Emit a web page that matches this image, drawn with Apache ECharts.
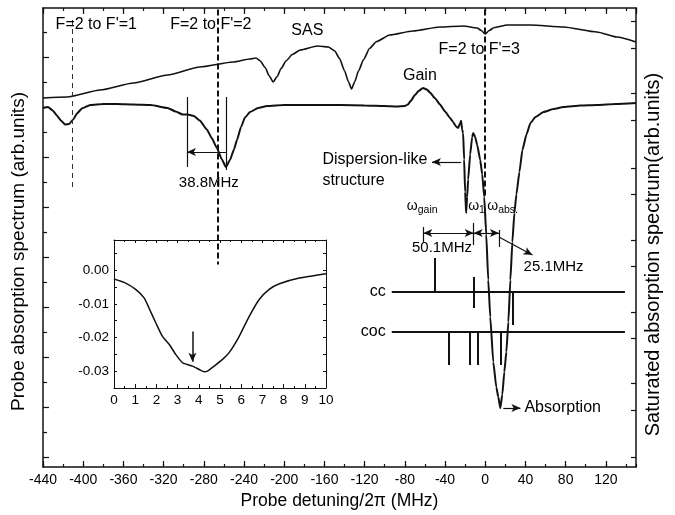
<!DOCTYPE html>
<html>
<head>
<meta charset="utf-8">
<script src="https://cdn.jsdelivr.net/npm/echarts@6/dist/echarts.min.js"></script>
<style>
  html, body { margin: 0; padding: 0; background: #fff; }
  #chart { width: 675px; height: 515px; }
</style>
</head>
<body>
<div id="chart"></div>
<script>
// ---- Saturated absorption (SAS) trace: detuning (MHz) vs signal (arb. units)
const sasDetuning = [-440, -416, -383, -350, -316, -284, -251, -234, -228, -224, -219, -215, -211, -207, -203, -198, -192,
  -184, -167, -156, -150, -145, -140, -136, -133, -130, -126, -121, -115, -108, -95, -72, -45, -22, -8, -4, 0, 4, 9,
  22, 45, 78, 111, 131, 150];
const sasSignal = [14.76, 14.80, 15.08, 15.36, 15.68, 16.00, 16.20, 16.32, 16.36, 16.25, 15.98, 15.65, 15.40, 15.62, 15.95, 16.25, 16.50,
  16.68, 16.84, 16.80, 16.65, 16.35, 15.85, 15.40, 15.12, 15.40, 15.85, 16.30, 16.75, 17.02, 17.28, 17.44, 17.60, 17.64, 17.56, 17.46, 17.32, 17.46, 17.58,
  17.68, 17.68, 17.60, 17.40, 17.20, 17.00];

// ---- Probe absorption trace
const probeDetuning = [-440, -435, -430, -426, -422, -418, -414, -410, -406, -401, -393, -380, -366, -350, -333, -316, -308, -301, -296,
  -290, -284, -277, -272, -267, -262, -258, -254, -250, -247, -243, -239, -234, -226, -217, -200, -184, -160, -144, -120, -100,
  -88, -80, -77, -74, -70, -66, -62, -58, -55, -50, -45, -40, -35, -32, -29, -27, -25, -24, -23, -22, -21, -20, -19, -18, -17,
  -15, -13, -12, -10, -8, -5, -3, -1, 1, 3, 5, 8, 11, 13, 15, 17, 19, 21, 23, 25, 27, 29, 31, 34, 37, 41, 45, 50, 58, 68, 78,
  95, 111, 130, 150];
const probeSignal = [14.36, 14.40, 14.25, 14.05, 13.85, 13.70, 13.72, 13.90, 14.15, 14.35, 14.48, 14.52, 14.52, 14.50, 14.48, 14.36, 14.22, 14.10, 14.10,
  14.04, 13.86, 13.50, 13.15, 12.76, 12.30, 12.00, 12.28, 12.70, 13.08, 13.60, 13.98, 14.20, 14.36, 14.44, 14.48, 14.48, 14.48, 14.48, 14.46, 14.44,
  14.42, 14.44, 14.50, 14.65, 14.88, 15.05, 15.16, 15.10, 14.98, 14.75, 14.50, 14.22, 13.96, 13.80, 13.62, 13.56, 13.75, 13.85, 13.50, 13.36, 12.30, 11.00, 10.16, 10.80, 11.50,
  12.50, 13.20, 13.36, 13.20, 12.88, 12.28, 11.70, 10.80, 9.30, 7.48, 6.00, 4.20, 3.20, 2.80, 2.36, 2.90, 3.80, 4.60, 5.80, 7.48, 9.00, 10.16, 10.90, 11.80, 12.68, 13.30, 13.76, 14.00, 14.20, 14.32, 14.40,
  14.46, 14.48, 14.52, 14.56];

// ---- Inset: close-up of the gain/absorption overlap
const insetX = [0, 0.55, 1.02, 1.42, 1.65, 1.97, 2.28, 2.6, 2.91, 3.23, 3.46, 3.7, 4.02, 4.25, 4.41, 4.72, 5.12, 5.43, 5.9, 6.38, 6.85, 7.32, 7.8, 8.74, 10];
const insetY = [-0.0026, -0.0038, -0.0057, -0.0082, -0.0112, -0.0156, -0.0196, -0.022, -0.025, -0.0275, -0.028, -0.0285, -0.0295, -0.0302, -0.030, -0.0285, -0.0265, -0.0245, -0.0197, -0.0137, -0.0087, -0.0057, -0.004, -0.0023, -0.001];
const insetArrowAt = 3.7;
const insetArrowSpan = [-0.0182, -0.0272];
const insetYLabels = [-0.03, -0.02, -0.01, 0];
const insetYTicks = [-0.03, -0.025, -0.02, -0.015, -0.01, -0.005, 0, 0.005];

// ---- Axis tick positions (arb. units)
const leftMajorTicks = [0.4, 2.4, 4.4, 6.4, 8.4, 10.4, 12.4, 14.4, 16.4];
const leftMinorTicks = [1.4, 3.4, 5.4, 7.4, 9.4, 11.4, 13.4, 15.4, 17.4];
const rightTicks = [0.41, 2.28, 3.35, 5.15, 6.21, 8.04, 9.07, 10.91, 11.97, 13.88, 14.94, 16.77, 17.83];

// ---- Transition markers (MHz)
const lineF1 = -411, lineF2 = -266, lineF3 = 0;
const dipF2 = -258, splitting = 38.8;
const omegaGain = -61.6, gainToOne = 50.1, oneToAbs = 25.1;
const omegaOne = omegaGain + gainToOne;
const omegaAbs = omegaOne + oneToAbs;
const ccLevel = 7.0, cocLevel = 5.4;
const ccLines = [-50, -11, 27];
const ccSpans = [[0, 1.36], [-0.64, 0.6], [-1.32, 0]];
const cocLines = [-36, -15, -7, 15];
const cocSpans = [[-1.32, 0], [-1.32, 0], [-1.32, 0], [-1.32, 0]];
const levelRange = [-93, 139];

const FONT = '"Liberation Sans", Arial, Helvetica, sans-serif';
const INK = '#111';
const TEXT = '#000';

const chart = echarts.init(document.getElementById('chart'), null, { renderer: 'canvas' });

function seg(x1, y1, x2, y2, style, s1, s2) {
  return [
    { coord: [x1, y1], symbol: s1 || 'none', lineStyle: style },
    { coord: [x2, y2], symbol: s2 || 'none' }
  ];
}
const solid = { color: INK, width: 1.2, type: 'solid' };
const thick = { color: INK, width: 2, type: 'solid' };
const dashThin = { color: '#333', width: 1, type: [5, 4] };
const dashBold = { color: INK, width: 2, type: [6, 3] };

const mainLines = [
  seg(lineF1, 17.88, lineF1, 11.2, dashThin),
  seg(lineF2, 18.3, lineF2, 8.1, dashBold),
  seg(lineF3, 18.3, lineF3, 10.8, dashBold),
  // 38.8 MHz splitting
  seg(dipF2 - splitting, 14.8, dipF2 - splitting, 12.0, solid),
  seg(dipF2, 14.8, dipF2, 11.88, solid),
  seg(dipF2, 12.6, dipF2 - splitting, 12.6, solid, 'none', 'arrow'),
  // dispersion pointer
  seg(-24, 12.2, -53, 12.2, solid, 'none', 'arrow'),
  // omega markers
  seg(omegaGain, 9.6, omegaGain, 9.0, solid),
  seg(omegaOne, 9.76, omegaOne, 8.88, solid),
  seg(omegaAbs, 9.48, omegaAbs, 8.8, solid),
  seg(omegaGain, 9.36, omegaOne, 9.36, solid, 'arrow', 'arrow'),
  seg(omegaOne, 9.36, omegaAbs, 9.36, solid, 'arrow', 'arrow'),
  seg(omegaAbs, 9.2, 47, 8.48, solid, 'none', 'arrow'),
  // absorption pointer
  seg(18, 2.36, 35, 2.36, solid, 'none', 'arrow'),
  // cc / coc level diagrams
  seg(levelRange[0], ccLevel, levelRange[1], ccLevel, thick),
  seg(levelRange[0], cocLevel, levelRange[1], cocLevel, thick)
];
ccLines.forEach((x, i) => mainLines.push(seg(x, ccLevel + ccSpans[i][0], x, ccLevel + ccSpans[i][1], thick)));
cocLines.forEach((x, i) => mainLines.push(seg(x, cocLevel + cocSpans[i][0], x, cocLevel + cocSpans[i][1], thick)));

const notes = [
  { t: "F=2 to F'=1", at: [-387, 17.68] },
  { t: "F=2 to F'=2", at: [-273, 17.68] },
  { t: 'SAS', at: [-177, 17.44] },
  { t: "F=2 to F'=3", at: [-6, 16.68] },
  { t: 'Gain', at: [-65, 15.64] },
  { t: '38.8MHz', at: [-275, 11.36], size: 15 },
  { t: 'Dispersion-like\nstructure', at: [-162, 11.88], align: 'left' },
  { t: '50.1MHz', at: [-43, 8.76], size: 15 },
  { t: '25.1MHz', at: [68, 8.0], size: 15 },
  { t: 'Absorption', at: [39, 2.36], align: 'left' },
  { t: 'cc', at: [-99, ccLevel], align: 'right' },
  { t: 'coc', at: [-99, cocLevel], align: 'right' },
  { t: '{w|ω}{s|gain}', at: [-78, 10.45], align: 'left' },
  { t: '{w|ω}{s|1}', at: [-17, 10.45], align: 'left' },
  { t: '{w|ω}{s|abs.}', at: [2, 10.45], align: 'left' }
];

const axisLine = { show: true, onZero: false, lineStyle: { color: INK, width: 1.5 } };
const noSplit = { show: false };

const option = {
  backgroundColor: '#fff',
  animation: false,
  textStyle: { fontFamily: FONT },
  grid: [
    { left: 43, right: 39, top: 8, bottom: 48 },
    { left: 114, right: 349, top: 240, bottom: 127 }
  ],
  xAxis: [
    { type: 'value', gridIndex: 0, position: 'bottom', min: -440, max: 150, interval: 40,
      axisLine, splitLine: noSplit,
      axisTick: { inside: true, length: 6, lineStyle: { color: INK, width: 1.2 } },
      axisLabel: { fontSize: 14, color: TEXT, margin: 6, showMaxLabel: false, fontFamily: FONT },
      name: 'Probe detuning/2\u03c0 (MHz)', nameLocation: 'middle', nameGap: 23,
      nameTextStyle: { fontSize: 17.5, color: TEXT, fontFamily: FONT } },
    { type: 'value', gridIndex: 0, position: 'bottom', min: -440, max: 150, interval: 20,
      axisLine: { show: false, onZero: false }, splitLine: noSplit, axisLabel: { show: false },
      axisTick: { inside: true, length: 3, lineStyle: { color: INK, width: 1.2 } } },
    { type: 'value', gridIndex: 0, position: 'top', min: -440, max: 150, interval: 40,
      axisLine, splitLine: noSplit, axisLabel: { show: false },
      axisTick: { inside: true, length: 6, lineStyle: { color: INK, width: 1.2 } } },
    { type: 'value', gridIndex: 0, position: 'top', min: -440, max: 150, interval: 20,
      axisLine: { show: false, onZero: false }, splitLine: noSplit, axisLabel: { show: false },
      axisTick: { inside: true, length: 3, lineStyle: { color: INK, width: 1.2 } } },
    { type: 'value', gridIndex: 1, position: 'bottom', min: 0, max: 10, interval: 1,
      axisLine: { show: true, onZero: false, lineStyle: { color: INK, width: 1 } }, splitLine: noSplit,
      axisTick: { inside: true, length: 4, lineStyle: { color: INK } },
      minorTick: { show: true, splitNumber: 2, length: 2, lineStyle: { color: INK } },
      axisLabel: { fontSize: 13.5, color: TEXT, margin: 5, fontFamily: FONT } },
    { type: 'value', gridIndex: 1, position: 'top', min: 0, max: 10, interval: 1,
      axisLine: { show: true, onZero: false, lineStyle: { color: INK, width: 1 } }, splitLine: noSplit,
      axisTick: { inside: true, length: 3, lineStyle: { color: INK } },
      minorTick: { show: true, splitNumber: 2, length: 2, lineStyle: { color: INK } },
      axisLabel: { show: false } }
  ],
  yAxis: [
    { type: 'value', gridIndex: 0, position: 'left', min: 0, max: 18.36,
      axisLine, splitLine: noSplit, axisLabel: { show: false },
      axisTick: { inside: true, length: 6, customValues: leftMajorTicks, lineStyle: { color: INK, width: 1.2 } },
      name: 'Probe absorption spectrum (arb.units)', nameLocation: 'middle', nameGap: 15,
      nameTextStyle: { fontSize: 19, color: TEXT, fontFamily: FONT, padding: [0, 28, 0, 0] } },
    { type: 'value', gridIndex: 0, position: 'left', min: 0, max: 18.36,
      axisLine: { show: false, onZero: false }, splitLine: noSplit, axisLabel: { show: false },
      axisTick: { inside: true, length: 4, customValues: leftMinorTicks, lineStyle: { color: INK, width: 1.2 } } },
    { type: 'value', gridIndex: 0, position: 'right', min: 0, max: 18.36,
      axisLine, splitLine: noSplit, axisLabel: { show: false },
      axisTick: { inside: true, length: 5, customValues: rightTicks, lineStyle: { color: INK, width: 1.2 } },
      name: 'Saturated absorption spectrum(arb.units)', nameLocation: 'middle', nameGap: 7,
      nameTextStyle: { fontSize: 20, color: TEXT, fontFamily: FONT, padding: [0, 34, 0, 0] } },
    { type: 'value', gridIndex: 1, position: 'left', min: -0.035, max: 0.009,
      axisLine: { show: true, onZero: false, lineStyle: { color: INK, width: 1 } }, splitLine: noSplit,
      axisTick: { inside: true, length: 3, customValues: insetYTicks, lineStyle: { color: INK } },
      axisLabel: { fontSize: 13.5, color: TEXT, margin: 5, fontFamily: FONT, customValues: insetYLabels,
        formatter: v => v.toFixed(2) } },
    { type: 'value', gridIndex: 1, position: 'right', min: -0.035, max: 0.009,
      axisLine: { show: true, onZero: false, lineStyle: { color: INK, width: 1 } }, splitLine: noSplit,
      axisTick: { inside: true, length: 3, customValues: insetYTicks, lineStyle: { color: INK } },
      axisLabel: { show: false } }
  ],
  series: [
    { type: 'line', name: 'SAS', xAxisIndex: 0, yAxisIndex: 0, showSymbol: false, smooth: 0.2, smoothMonotone: 'x',
      lineStyle: { color: INK, width: 1.6 }, z: 3,
      data: sasDetuning.map((x, i) => [x, sasSignal[i]]) },
    { type: 'line', name: 'Probe', xAxisIndex: 0, yAxisIndex: 0, showSymbol: false, smooth: 0.15, smoothMonotone: 'x',
      lineStyle: { color: INK, width: 2 }, z: 3,
      data: probeDetuning.map((x, i) => [x, probeSignal[i]]),
      markLine: { silent: true, animation: false, symbolSize: [6, 9], label: { show: false },
        emphasis: { disabled: true }, data: mainLines } },
    { type: 'scatter', name: 'notes', xAxisIndex: 0, yAxisIndex: 0, symbolSize: 1, silent: true, z: 5,
      itemStyle: { color: 'rgba(255,255,255,0)' },
      data: notes.map(n => ({
        value: n.at,
        label: { show: true, position: 'inside', formatter: n.t, align: n.align || 'center', verticalAlign: 'middle',
          color: TEXT, fontSize: n.size || 16, fontFamily: FONT, lineHeight: 21,
          textBorderWidth: 0, textBorderColor: 'transparent', opacity: 1,
          rich: { w: { fontSize: 14, fontFamily: FONT, color: TEXT, textBorderWidth: 0 },
                  s: { fontSize: 10.5, fontFamily: FONT, color: TEXT, textBorderWidth: 0, padding: [9, 0, 0, 0] } } }
      })) },
    { type: 'line', name: 'inset', xAxisIndex: 4, yAxisIndex: 3, showSymbol: false, smooth: 0.2,
      lineStyle: { color: INK, width: 1.5 }, z: 6,
      data: insetX.map((x, i) => [x, insetY[i]]),
      markLine: { silent: true, animation: false, symbolSize: [6, 9], label: { show: false },
        emphasis: { disabled: true },
        data: [seg(insetArrowAt, insetArrowSpan[0], insetArrowAt, insetArrowSpan[1],
          { color: INK, width: 1.5, type: 'solid' }, 'none', 'arrow')] } }
  ]
};
chart.setOption(option);
</script>
</body>
</html>
